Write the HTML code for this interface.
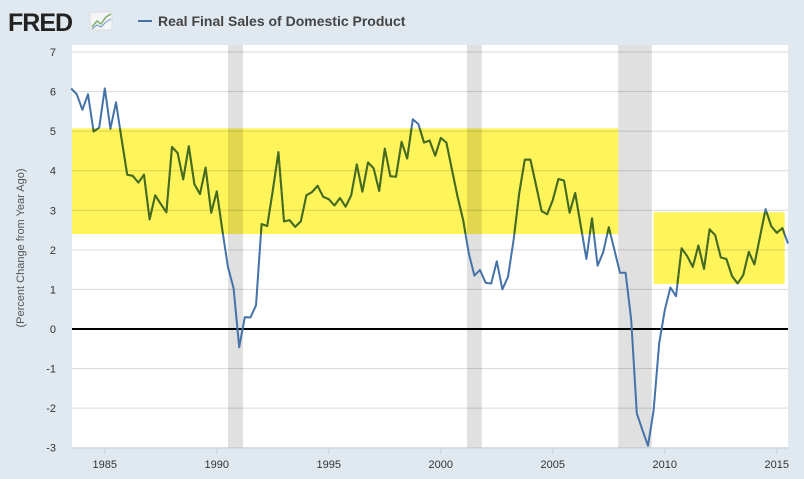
<!DOCTYPE html>
<html><head><meta charset="utf-8">
<style>
body{margin:0;background:#e1e9f0;font-family:"Liberation Sans",sans-serif;}
svg{display:block}
</style></head>
<body>
<svg id="chart" width="804" height="479">
  <defs><clipPath id="boxclip"></clipPath></defs>
  <rect x="0" y="0" width="804" height="479" fill="#e1e9f0"/>
  <g>
    <text x="8" y="31" font-size="25" font-weight="bold" fill="#222" letter-spacing="-1">FRED</text>
    <rect x="90" y="12" width="22" height="18" rx="2" fill="#f2f4f6" stroke="#ccc" stroke-width="0.5"/>
    <polyline points="92,27 97,21 101,24 106,17 111,14" fill="none" stroke="#7fb06a" stroke-width="1.5"/>
    <polyline points="92,29 97,25 101,27 106,22 111,19" fill="none" stroke="#6e95c6" stroke-width="1"/>
  </g>
  <line x1="138" y1="21" x2="152" y2="21" stroke="#4572a7" stroke-width="2"/>
  <text x="158" y="26" font-size="14" font-weight="bold" fill="#444">Real Final Sales of Domestic Product</text>
  <rect x="72" y="45" width="716" height="403" fill="#ffffff"/>
  <g id="boxes"></g>
  <g id="grid"></g>
  <g id="rec"></g>
  <g id="line"></g>
  <g id="axes"></g>
  <text transform="translate(24,248) rotate(-90)" text-anchor="middle" font-size="11" fill="#555">(Percent Change from Year Ago)</text>
</svg>
<script>
const values = [6.08,5.93,5.54,5.93,4.99,5.09,6.08,5.06,5.73,4.8,3.9,3.87,3.7,3.9,2.77,3.38,3.16,2.95,4.6,4.45,3.78,4.62,3.66,3.41,4.08,2.94,3.48,2.49,1.56,1.03,-0.46,0.3,0.29,0.6,2.65,2.6,3.5,4.47,2.72,2.75,2.58,2.72,3.38,3.46,3.62,
3.34,3.28,3.12,3.31,3.09,3.38,4.16,3.47,4.21,4.06,3.49,4.56,3.86,3.85,4.73,4.31,5.30,5.18,4.71,4.76,4.38,4.83,4.71,4.02,3.34,2.75,1.91,1.35,1.49,1.17,1.15,1.71,1.00,1.32,2.25,3.43,4.28,4.28,3.64,2.98,2.90,3.26,3.79,
3.75,2.94,3.44,2.6,1.77,2.80,1.60,1.94,2.57,2.0,1.42,1.42,0.23,-2.13,-2.55,-2.95,-2.06,-0.36,0.48,1.05,0.83,2.04,1.84,1.57,2.11,1.52,2.52,2.37,1.81,1.77,1.34,1.15,1.36,1.95,1.63,2.33,3.03,2.60,2.43,2.55,2.16];
const startYear = 1983.5;
const yTicks = [-3,-2,-1,0,1,2,3,4,5,6,7];
const xTicks = [1985,1990,1995,2000,2005,2010,2015];
const recStart = [1990.5,2001.17,2007.92];
const recEnd = [1991.17,2001.83,2009.42];
const boxX0 = [1983.5,2009.5];
const boxX1 = [2007.92,2015.35];
const boxLo = [2.4,1.14];
const boxHi = [5.07,2.95];

const NS="http://www.w3.org/2000/svg";
function xs(yr){return 228+(yr-1990.5)*22.4;}
function ys(v){return 329-v*39.57;}
function mk(tag,attrs,parent){const e=document.createElementNS(NS,tag);for(const k in attrs)e.setAttribute(k,attrs[k]);(typeof parent==='string'?document.getElementById(parent):parent).appendChild(e);return e;}

boxX0.forEach((x0,i)=>{
  const a={x:Math.max(72,xs(x0)),y:ys(boxHi[i]),width:Math.min(788,xs(boxX1[i]))-Math.max(72,xs(x0)),height:ys(boxLo[i])-ys(boxHi[i])};
  const b=mk('rect',Object.assign({fill:'#fff55a'},a),'boxes');
  
  
  mk('rect',a,'boxclip');
});
yTicks.forEach(t=>{
  const g=mk('line',{x1:72,x2:788,y1:ys(t),y2:ys(t),stroke:t===0?'#000':'#000','stroke-opacity':t===0?1:0.15,'stroke-width':t===0?2:1},'grid');
  
  
  const l=mk('text',{x:56,y:ys(t)+4,'text-anchor':'end','font-size':11,fill:'#333'},'axes');
  l.textContent=t;
  
  
});
mk('line',{x1:72,x2:788,y1:448,y2:448,stroke:'#c0d0e0','stroke-width':1},'axes');
xTicks.forEach(t=>{
  const tk=mk('line',{x1:xs(t),x2:xs(t),y1:448,y2:454,stroke:'#c0d0e0'},'axes');
  
  
  const l=mk('text',{x:xs(t),y:468,'text-anchor':'middle','font-size':11,fill:'#333'},'axes');
  l.textContent=t;
  
  
});
recStart.forEach((s,i)=>{
  const r=mk('rect',{x:xs(s),y:45,width:xs(recEnd[i])-xs(s),height:403,fill:'#000','fill-opacity':0.12},'rec');
  
  
});
const pts=values.map((v,i)=>xs(startYear+i*0.25).toFixed(1)+','+ys(v).toFixed(1)).join(' ');
const pl=mk('polyline',{points:pts,fill:'none',stroke:'#4572a7','stroke-width':2,'stroke-linejoin':'round'},'line');


const pl2=mk('polyline',{points:pts,fill:'none',stroke:'#466c1a','stroke-width':2,'stroke-linejoin':'round','clip-path':'url(#boxclip)'},'line');


</script>
</body></html>
